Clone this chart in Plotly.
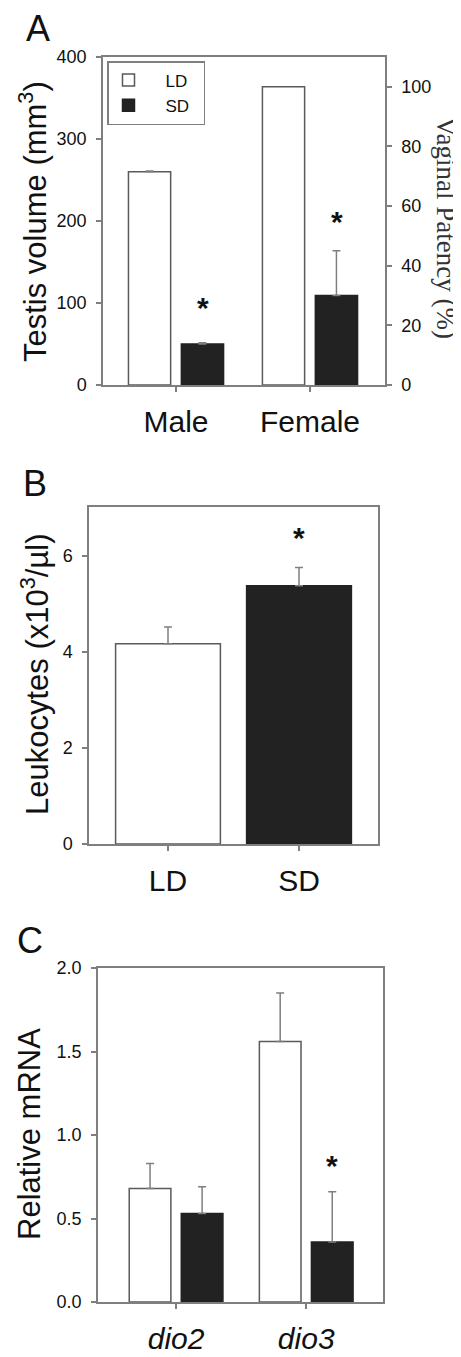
import plotly.graph_objects as go

# page body has an 8px default margin; figure sized so it fills the 461x1357 window
OFF = 8
W, H = 461 - OFF, 1357 - OFF

# ---------------- data ----------------
A_groups = ["Male", "Female"]
A_LD = [260, 100]          # Male: testis volume (mm3, left axis); Female: vaginal patency (%, right axis)
A_LD_err = [1.0, 0.0]
A_SD = [50, 30]
A_SD_err = [1.5, 15]
A_star = [94, 54.7]        # asterisk heights above SD bars (axis units)

B_groups = ["LD", "SD"]
B_vals = [4.17, 5.38]
B_err = [0.35, 0.38]
B_star = [None, 6.39]

C_genes = ["dio2", "dio3"]
C_LD = [0.68, 1.56]
C_LD_err = [0.15, 0.29]
C_SD = [0.53, 0.36]
C_SD_err = [0.16, 0.30]
C_star = [None, 0.82]

# ---------------- style ----------------
SANS = "Liberation Sans, Arial, sans-serif"
SERIF = "Liberation Serif, Times New Roman, serif"
AX = "#7f7f7f"
DARK = "#222222"
OUT = "#5a5a5a"
ERR = dict(type="data", symmetric=False, color=AX, thickness=1.5, width=4)


def py(p):
    return 1 - (p - OFF) / H


def px(p):
    return (p - OFF) / W


fig = go.Figure()

# ---------------- Panel A ----------------
for i, g in enumerate(A_groups):
    yax = "y" if i == 0 else "y2"
    fig.add_trace(go.Bar(
        x=[g], y=[A_LD[i]], xaxis="x", yaxis=yax, name="\u2003LD\u2002",
        legendgroup="LD", showlegend=(i == 0),
        offset=-0.355, width=0.315,
        marker=dict(color="white", line=dict(color=OUT, width=1.5)),
        error_y=dict(ERR, array=[A_LD_err[i]], arrayminus=[0], visible=A_LD_err[i] > 0),
    ))
    fig.add_trace(go.Bar(
        x=[g], y=[A_SD[i]], xaxis="x", yaxis=yax, name="\u2003SD\u2002",
        legendgroup="SD", showlegend=(i == 0),
        offset=0.04, width=0.315,
        marker=dict(color=DARK, line=dict(color=DARK, width=1.5)),
        error_y=dict(ERR, array=[A_SD_err[i]], arrayminus=[0]),
    ))

# ---------------- Panel B ----------------
fig.add_trace(go.Bar(
    x=B_groups, y=B_vals, xaxis="x2", yaxis="y3", width=0.8, showlegend=False,
    marker=dict(color=["white", DARK], line=dict(color=[OUT, DARK], width=1.5)),
    error_y=dict(ERR, array=B_err, arrayminus=[0, 0]),
))

# ---------------- Panel C ----------------
fig.add_trace(go.Bar(
    x=C_genes, y=C_LD, xaxis="x3", yaxis="y4", offset=-0.36, width=0.32, showlegend=False,
    marker=dict(color="white", line=dict(color=OUT, width=1.5)),
    error_y=dict(ERR, array=C_LD_err, arrayminus=[0, 0]),
))
fig.add_trace(go.Bar(
    x=C_genes, y=C_SD, xaxis="x3", yaxis="y4", offset=0.04, width=0.32, showlegend=False,
    marker=dict(color=DARK, line=dict(color=DARK, width=1.5)),
    error_y=dict(ERR, array=C_SD_err, arrayminus=[0, 0]),
))

common_y = dict(showline=True, linecolor=AX, linewidth=1.5, ticks="outside", ticklen=5,
                tickcolor=AX, tickwidth=1.5, showgrid=False, zeroline=False, automargin=False,
                tickfont=dict(family=SANS, size=18, color="#111"), ticklabelstandoff=6)
common_x = dict(showline=True, linecolor=AX, linewidth=1.5, ticks="outside", ticklen=5,
                tickcolor=AX, tickwidth=1.5, showgrid=False, mirror=True, automargin=False,
                tickfont=dict(family=SANS, size=30, color="#111"), ticklabelstandoff=4)

fig.update_layout(
    width=W, height=H, margin=dict(l=0, r=0, t=0, b=0, autoexpand=False),
    paper_bgcolor="white", plot_bgcolor="white",
    barmode="overlay",
    xaxis=dict(common_x, domain=[px(103), px(385)], anchor="y", type="category",
               categoryorder="array", categoryarray=A_groups, range=[-0.545, 1.56]),
    yaxis=dict(common_y, domain=[py(385), py(57)], anchor="x", range=[0, 400], dtick=100),
    yaxis2=dict(common_y, overlaying="y", side="right", anchor="x", range=[0, 110],
                tickvals=[0, 20, 40, 60, 80, 100]),
    xaxis2=dict(common_x, domain=[px(89), px(378)], anchor="y3", type="category",
                range=[-0.603, 1.603]),
    yaxis3=dict(common_y, domain=[py(844), py(507)], anchor="x2", range=[0, 7.02],
                tickvals=[0, 2, 4, 6], mirror=True),
    xaxis3=dict(common_x, domain=[px(98), px(383)], anchor="y4", type="category",
                range=[-0.6, 1.59], tickvals=C_genes,
                ticktext=[f"<i>{g}</i>" for g in C_genes]),
    yaxis4=dict(common_y, domain=[py(1302), py(968)], anchor="x3", range=[0, 2.0],
                dtick=0.5, tickformat=".1f", mirror=True),
    legend=dict(x=px(107), y=py(61), xanchor="left", yanchor="top",
                bordercolor=AX, borderwidth=1.5, bgcolor="white",
                font=dict(family=SANS, size=17, color="#111"),
                itemwidth=30, tracegroupgap=0, traceorder="normal"),
    showlegend=True,
)

ann = []
# panel letters
for lab, (x0, y0) in zip(["A", "B", "C"], [(38, 29), (35, 484), (30, 940)]):
    ann.append(dict(text=lab, x=px(x0), y=py(y0), xref="paper", yref="paper",
                    xanchor="center", yanchor="middle",
                    showarrow=False, font=dict(family=SANS, size=36, color="#111")))
# y titles
TA = dict(xref="paper", yref="paper", xanchor="center", yanchor="middle", showarrow=False)
ann.append(dict(TA, text="Testis volume (mm<sup>3</sup>)", x=px(33), y=py(222),
                textangle=-90, font=dict(family=SANS, size=31, color="#111")))
ann.append(dict(TA, text="Vaginal Patency (%)", x=px(446), y=py(228),
                textangle=90, font=dict(family=SERIF, size=27, color="#333")))
ann.append(dict(TA, text="Leukocytes (x10<sup>3</sup>/µl)", x=px(35), y=py(675),
                textangle=-90, font=dict(family=SANS, size=31, color="#111")))
ann.append(dict(TA, text="Relative mRNA", x=px(29), y=py(1134),
                textangle=-90, font=dict(family=SANS, size=31, color="#111")))
# significance stars
STAR = dict(family=SANS, size=30, color="#111")
SA = dict(showarrow=False, font=STAR, xanchor="center", yanchor="middle")
ann.append(dict(SA, text="<b>*</b>", x=0, xshift=0.2 * 134, y=A_star[0], xref="x", yref="y"))
ann.append(dict(SA, text="<b>*</b>", x=1, xshift=0.2 * 134, y=A_star[1], xref="x", yref="y2"))
ann.append(dict(SA, text="<b>*</b>", x=1, y=B_star[1], xref="x2", yref="y3"))
ann.append(dict(SA, text="<b>*</b>", x=1, xshift=0.2 * 130, y=C_star[1], xref="x3", yref="y4"))
fig.update_layout(annotations=ann)

fig.write_html("out.html")
